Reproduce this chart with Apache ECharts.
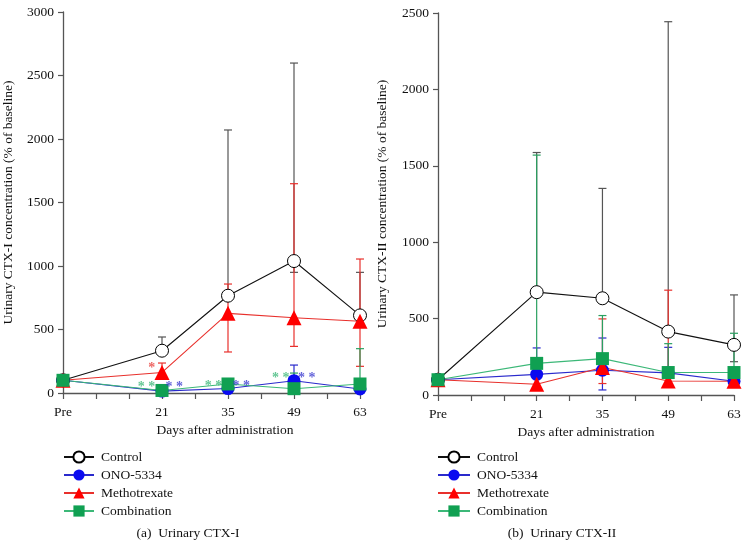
<!DOCTYPE html>
<html><head><meta charset="utf-8">
<script src="https://cdn.jsdelivr.net/npm/echarts@6/dist/echarts.min.js"></script>
<style>html,body{margin:0;padding:0;background:#fff}#c{width:748px;height:560px}</style>
</head><body><div id="c"></div>
<script>
// ---- data ----
const days = [0, 21, 35, 49, 63];
const xTickDays = [0, 21, 35, 49, 63];
const xTickLabels = ['Pre', '21', '35', '49', '63'];
const seriesNames = ['Control', 'ONO-5334', 'Methotrexate', 'Combination'];

// Panel (a) Urinary CTX-I
const ctrlA = [100, 333, 766, 1039, 611];
const ctrlA_hi = [null, 441, 2071, 2598, 950];
const ctrlA_lo = [null, null, null, 950, null];
const onoA = [100, 15, 35, 97, 32];
const onoA_hi = [null, null, null, 220, null];
const onoA_lo = [null, null, null, null, null];
const mtxA = [100, 162, 627, 592, 565];
const mtxA_hi = [null, 236, 858, 1648, 1055];
const mtxA_lo = [null, null, 323, 367, 210];
const comA = [100, 20, 71, 34, 71];
const comA_hi = [null, null, null, 157, 349];
const comA_lo = [null, null, null, null, null];

// Panel (b) Urinary CTX-II
const ctrlB = [100, 673, 633, 415, 328];
const ctrlB_hi = [null, 1587, 1352, 2443, 655];
const ctrlB_lo = [null, null, null, null, 218];
const onoB = [100, 135, 162, 145, 90];
const onoB_hi = [null, 308, 373, 312, null];
const onoB_lo = [null, null, 33, null, 62];
const mtxB = [100, 70, 180, 92, 90];
const mtxB_hi = [null, null, 498, 686, null];
const mtxB_lo = [null, null, 75, 52, 68];
const comB = [100, 207, 238, 147, 147];
const comB_hi = [null, 1570, 520, 336, 404];
const comB_lo = [null, null, null, null, null];

// significance marks (day, value, text)
const starsGreenA = [[17.7, 45, '* *'], [31.9, 50, '* *'], [46.2, 115, '* *']];
const starsBlueA = [[23.6, 45, '* *'], [37.8, 50, '* *'], [51.7, 115, '* *']];
const starsRedA = [[18.8, 195, '*']];

// ---- styles ----
const FONT = '"Liberation Serif", "DejaVu Serif", serif';
const AXIS = '#555';
const C = {
  ctrl: {line: '#111', err: '#555'},
  ono: {line: '#2a2acc', mark: '#0a0af0', err: '#2a2acc'},
  mtx: {line: '#e8302c', mark: '#ff0000', err: '#e8302c'},
  com: {line: '#3cb878', mark: '#10a052', err: '#2aa060'}
};

function errData(mean, lo, hi) {
  const out = [];
  days.forEach((d, i) => {
    if (lo[i] == null && hi[i] == null) return;
    out.push([d, lo[i] == null ? mean[i] : lo[i], hi[i] == null ? mean[i] : hi[i], lo[i] == null ? 0 : 1, hi[i] == null ? 0 : 1]);
  });
  return out;
}
function errSeries(name, idx, mean, lo, hi, color) {
  return {
    name: name + ' err', type: 'custom', xAxisIndex: idx, yAxisIndex: idx, z: 1,
    data: errData(mean, lo, hi), silent: true,
    renderItem: function (params, api) {
      const p1 = api.coord([api.value(0), api.value(1)]);
      const p2 = api.coord([api.value(0), api.value(2)]);
      const hw = 4;
      const st = {stroke: color, lineWidth: 1.2};
      const ch = [{type: 'line', shape: {x1: p1[0], y1: p1[1], x2: p2[0], y2: p2[1]}, style: st}];
      if (api.value(3)) ch.push({type: 'line', shape: {x1: p1[0] - hw, y1: p1[1], x2: p1[0] + hw, y2: p1[1]}, style: st});
      if (api.value(4)) ch.push({type: 'line', shape: {x1: p2[0] - hw, y1: p2[1], x2: p2[0] + hw, y2: p2[1]}, style: st});
      return {type: 'group', children: ch};
    }
  };
}
function lineSeries(name, idx, vals, key) {
  const base = {
    name: name, type: 'line', xAxisIndex: idx, yAxisIndex: idx, z: 3,
    data: days.map((d, i) => [d, vals[i]]),
    lineStyle: {width: 1.1, color: C[key].line},
    emphasis: {disabled: true}
  };
  if (key === 'ctrl') {
    base.symbol = 'circle'; base.symbolSize = 13;
    base.itemStyle = {color: '#fff', borderColor: '#000', borderWidth: 1};
  } else if (key === 'ono') {
    base.symbol = 'circle'; base.symbolSize = 13;
    base.itemStyle = {color: C.ono.mark, borderWidth: 0};
  } else if (key === 'mtx') {
    base.symbol = 'triangle'; base.symbolSize = 15;
    base.itemStyle = {color: C.mtx.mark, borderWidth: 0};
  } else {
    base.symbol = 'rect'; base.symbolSize = 13;
    base.itemStyle = {color: C.com.mark, borderWidth: 0};
  }
  return base;
}
function starSeries(idx, arr, color) {
  return {
    type: 'scatter', xAxisIndex: idx, yAxisIndex: idx, z: 4, symbolSize: 1,
    itemStyle: {color: 'rgba(0,0,0,0)'}, silent: true,
    data: arr.map(a => ({value: [a[0], a[1]], label: {formatter: a[2]}})),
    label: {show: true, position: 'inside', color: color, fontFamily: FONT, fontSize: 14, fontWeight: 'bold'}
  };
}
function xAxis(idx, pad) {
  return {
    type: 'value', gridIndex: idx, min: 0, max: 63, interval: 7,
    name: 'Days after administration', nameLocation: 'middle', nameGap: 30,
    nameTextStyle: {fontFamily: FONT, fontSize: 13.5, color: '#111', padding: pad},
    axisLine: {lineStyle: {color: AXIS, width: 1.3}},
    axisTick: {show: true, length: 6, lineStyle: {color: AXIS, width: 1.2}},
    axisLabel: {margin: 12, fontFamily: FONT, fontSize: 13.5, color: '#111',
      formatter: v => { const k = xTickDays.indexOf(v); return k >= 0 ? xTickLabels[k] : ''; }},
    splitLine: {show: false}
  };
}
function yAxis(idx, max, name, gap) {
  return {
    type: 'value', gridIndex: idx, min: 0, max: max, interval: 500,
    name: name, nameLocation: 'middle', nameGap: gap,
    nameTextStyle: {fontFamily: FONT, fontSize: 13.5, color: '#111'},
    axisLine: {show: true, lineStyle: {color: AXIS, width: 1.3}},
    axisTick: {show: true, length: 5, lineStyle: {color: AXIS, width: 1.2}},
    axisLabel: {margin: 9, fontFamily: FONT, fontSize: 13.5, color: '#111', formatter: v => String(v)},
    splitLine: {show: false}
  };
}
function legend(left, w) {
  return {
    left: left, top: 450, padding: 0, orient: 'vertical', itemWidth: w, itemHeight: 14, itemGap: 4,
    data: seriesNames, selectedMode: false,
    textStyle: {fontFamily: FONT, fontSize: 13.5, color: '#111', padding: [0, 0, 0, 2]}
  };
}

const series = [];
[[0, ctrlA, ctrlA_lo, ctrlA_hi, onoA, onoA_lo, onoA_hi, mtxA, mtxA_lo, mtxA_hi, comA, comA_lo, comA_hi],
 [1, ctrlB, ctrlB_lo, ctrlB_hi, onoB, onoB_lo, onoB_hi, mtxB, mtxB_lo, mtxB_hi, comB, comB_lo, comB_hi]].forEach(r => {
  const idx = r[0];
  series.push(errSeries('Control', idx, r[1], r[2], r[3], C.ctrl.err));
  series.push(errSeries('ONO-5334', idx, r[4], r[5], r[6], C.ono.err));
  series.push(errSeries('Methotrexate', idx, r[7], r[8], r[9], C.mtx.err));
  series.push(errSeries('Combination', idx, r[10], r[11], r[12], C.com.err));
  series.push(lineSeries('Control', idx, r[1], 'ctrl'));
  series.push(lineSeries('ONO-5334', idx, r[4], 'ono'));
  series.push(lineSeries('Methotrexate', idx, r[7], 'mtx'));
  series.push(lineSeries('Combination', idx, r[10], 'com'));
});
series.push(starSeries(0, starsGreenA, '#3cb878'));
series.push(starSeries(0, starsBlueA, '#3a3ad0'));
series.push(starSeries(0, starsRedA, '#e8403c'));

const chart = echarts.init(document.getElementById('c'), null, {renderer: 'canvas'});
chart.setOption({
  animation: false,
  backgroundColor: '#fff',
  grid: [{left: 63, top: 12, width: 297, height: 381}, {left: 438, top: 13, width: 296, height: 382}],
  xAxis: [xAxis(0, [0, 0, 0, 27]), xAxis(1, [0, 0, 0, 0])],
  yAxis: [yAxis(0, 3000, 'Urinary CTX-I concentration (% of baseline)', 48),
          yAxis(1, 2500, 'Urinary CTX-II concentration (% of baseline)', 49)],
  legend: [legend(63, 30), legend(437, 32)],
  graphic: [
    {type: 'text', x: 188, y: 533, style: {text: '(a)  Urinary CTX-I', fontFamily: FONT, fontSize: 13.5, fill: '#111', textAlign: 'center', textVerticalAlign: 'middle'}},
    {type: 'text', x: 562, y: 533, style: {text: '(b)  Urinary CTX-II', fontFamily: FONT, fontSize: 13.5, fill: '#111', textAlign: 'center', textVerticalAlign: 'middle'}}
  ],
  series: series
});
</script></body></html>
